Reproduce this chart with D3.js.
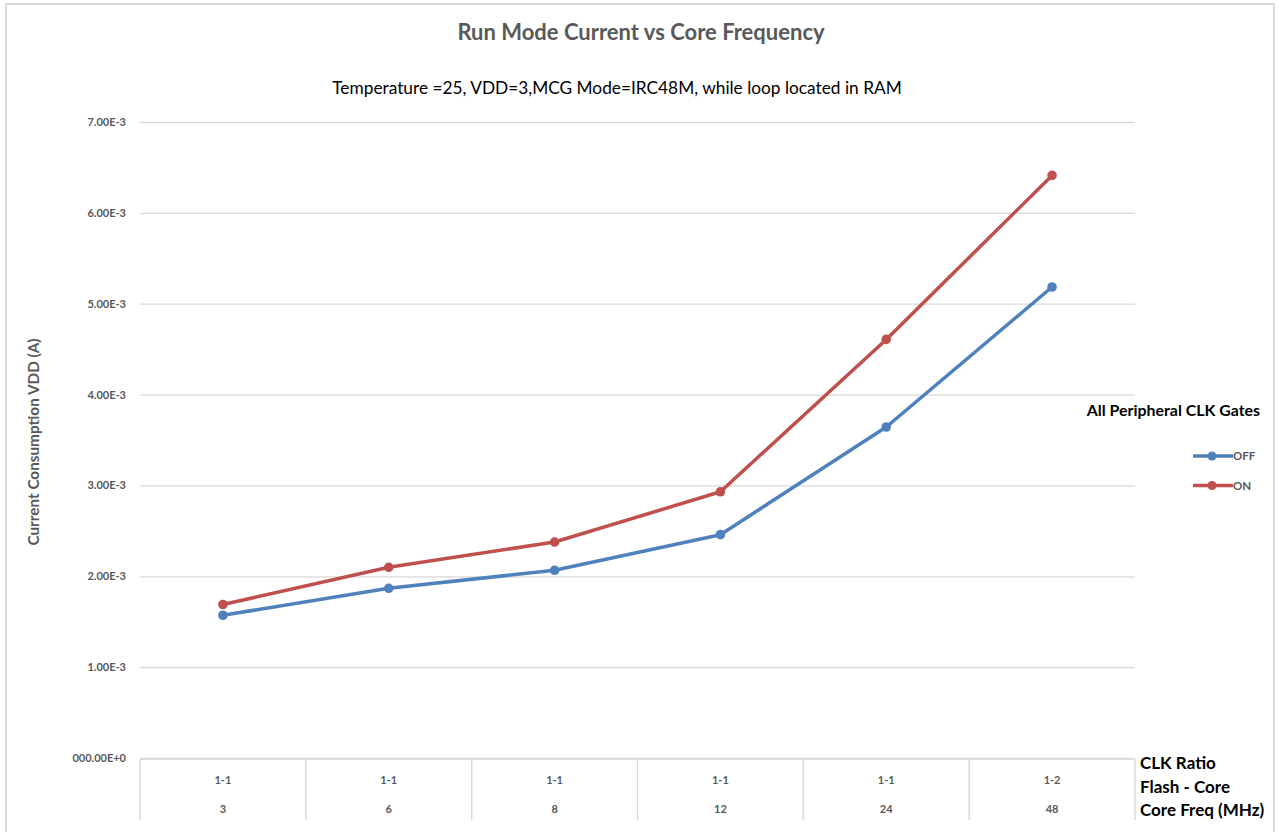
<!DOCTYPE html>
<html>
<head>
<meta charset="utf-8">
<script src="https://cdn.jsdelivr.net/npm/d3@7"></script>
<style>
  body { margin: 0; background: #ffffff; }
  text { font-family: Lato, "Open Sans", sans-serif; }
</style>
</head>
<body>
<div id="chart"></div>
<script>
// Chart data
var coreFreqs = ["3", "6", "8", "12", "24", "48"];
var clkRatios = ["1-1", "1-1", "1-1", "1-1", "1-1", "1-2"];
var offValues = [1.571e-3, 1.868e-3, 2.066e-3, 2.458e-3, 3.643e-3, 5.184e-3];
var onValues = [1.689e-3, 2.099e-3, 2.377e-3, 2.930e-3, 4.607e-3, 6.412e-3];
var yTicks = [0, 1e-3, 2e-3, 3e-3, 4e-3, 5e-3, 6e-3, 7e-3];
var yTickLabels = ["000.00E+0", "1.00E-3", "2.00E-3", "3.00E-3", "4.00E-3", "5.00E-3", "6.00E-3", "7.00E-3"];
var seriesNames = ["OFF", "ON"];
var seriesColors = ["#4f81bd", "#c0504d"];
var axisRowLabels = ["CLK Ratio", "Flash - Core", "Core Freq (MHz)"];

// Set the dimensions and margins
var w = 1279, h = 832;
var margin = {top: 122, right: 144, bottom: 74, left: 140};
var width = w - margin.left - margin.right;
var height = h - margin.top - margin.bottom;

var svg = d3.select("#chart")
  .append("svg")
    .attr("width", w)
    .attr("height", h);

// Outer chart border
svg.append("rect")
  .attr("x", 6)
  .attr("y", 4)
  .attr("width", 1268)
  .attr("height", 840)
  .attr("fill", "none")
  .attr("stroke", "#d9d9d9")
  .attr("stroke-width", 2);

// Title and subtitle
svg.append("text")
  .attr("x", 641)
  .attr("y", 40)
  .attr("text-anchor", "middle")
  .attr("font-size", "22px")
  .attr("font-weight", 700)
  .attr("fill", "#595959")
  .text("Run Mode Current vs Core Frequency");

svg.append("text")
  .attr("x", 617)
  .attr("y", 94)
  .attr("text-anchor", "middle")
  .attr("font-size", "17.3px")
  .attr("fill", "#000000")
  .text("Temperature =25, VDD=3,MCG Mode=IRC48M, while loop located in RAM");

var chart = svg.append("g")
  .attr("transform", "translate(" + margin.left + "," + margin.top + ")");

// Create scale function
var xScale = d3.scaleBand().domain(coreFreqs).range([0, width]);
var yScale = d3.scaleLinear().domain([0, 7e-3]).range([height, 0]);

// Create Y axis with gridlines
var yAxis = d3.axisLeft(yScale)
  .tickValues(yTicks)
  .tickSize(-width)
  .tickPadding(14)
  .tickFormat(function(d, i) { return yTickLabels[i]; });

var yAxisG = chart.append("g").call(yAxis);
yAxisG.select(".domain").remove();
yAxisG.selectAll("line")
  .attr("stroke", "#d9d9d9")
  .attr("stroke-width", 1.3);
yAxisG.selectAll("text")
  .attr("font-family", "Lato, sans-serif")
  .attr("font-size", "11px")
  .attr("font-weight", 700)
  .attr("fill", "#595959");

// Y label
svg.append("text")
  .attr("transform", "translate(39," + 442 + ")rotate(-90)")
  .attr("text-anchor", "middle")
  .attr("font-size", "15.3px")
  .attr("font-weight", 700)
  .attr("fill", "#595959")
  .text("Current Consumption VDD (A)");

// Category axis table
chart.append("line")
  .attr("x1", 0)
  .attr("x2", width)
  .attr("y1", height + 1)
  .attr("y2", height + 1)
  .attr("stroke", "#d9d9d9")
  .attr("stroke-width", 1.5);

var dividers = coreFreqs.map(function(d) { return xScale(d); }).concat([width]);
chart.selectAll(".divider").data(dividers).enter().append("line")
  .attr("class", "divider")
  .attr("x1", function(d) { return d; })
  .attr("x2", function(d) { return d; })
  .attr("y1", height + 1)
  .attr("y2", height + 62)
  .attr("stroke", "#d9d9d9")
  .attr("stroke-width", 1.5);

chart.selectAll(".ratio").data(clkRatios).enter().append("text")
  .attr("class", "ratio")
  .attr("x", function(d, i) { return xScale(coreFreqs[i]) + xScale.bandwidth() / 2; })
  .attr("y", height + 26)
  .attr("text-anchor", "middle")
  .attr("font-size", "11px")
  .attr("font-weight", 700)
  .attr("fill", "#595959")
  .text(function(d) { return d; });

chart.selectAll(".freq").data(coreFreqs).enter().append("text")
  .attr("class", "freq")
  .attr("x", function(d) { return xScale(d) + xScale.bandwidth() / 2; })
  .attr("y", height + 55)
  .attr("text-anchor", "middle")
  .attr("font-size", "11px")
  .attr("font-weight", 700)
  .attr("fill", "#595959")
  .text(function(d) { return d; });

svg.selectAll(".rowlabel").data(axisRowLabels).enter().append("text")
  .attr("class", "rowlabel")
  .attr("x", 1140)
  .attr("y", function(d, i) { return 769 + i * 23.5; })
  .attr("font-size", "17px")
  .attr("font-weight", 700)
  .attr("fill", "#000000")
  .text(function(d) { return d; });

// Create lines and points
var series = [offValues, onValues];
var line = d3.line()
  .x(function(d, i) { return xScale(coreFreqs[i]) + xScale.bandwidth() / 2; })
  .y(function(d) { return yScale(d); });

series.forEach(function(values, s) {
  chart.append("path")
    .datum(values)
    .attr("d", line)
    .attr("fill", "none")
    .attr("stroke", seriesColors[s])
    .attr("stroke-width", 3.5)
    .attr("stroke-linejoin", "round");

  chart.selectAll(".pt" + s).data(values).enter().append("circle")
    .attr("class", "pt" + s)
    .attr("cx", function(d, i) { return xScale(coreFreqs[i]) + xScale.bandwidth() / 2; })
    .attr("cy", function(d) { return yScale(d); })
    .attr("r", 4.8)
    .attr("fill", seriesColors[s]);
});

// Legend
svg.append("text")
  .attr("x", 1260)
  .attr("y", 416)
  .attr("text-anchor", "end")
  .attr("font-size", "15.9px")
  .attr("font-weight", 700)
  .attr("fill", "#000000")
  .text("All Peripheral CLK Gates");

var legend = svg.selectAll(".legend").data(seriesNames).enter().append("g")
  .attr("class", "legend")
  .attr("transform", function(d, i) { return "translate(1193," + (456 + i * 29.5) + ")"; });

legend.append("line")
  .attr("x1", 0)
  .attr("x2", 40)
  .attr("stroke", function(d, i) { return seriesColors[i]; })
  .attr("stroke-width", 3.5);

legend.append("circle")
  .attr("cx", 19)
  .attr("r", 4.5)
  .attr("fill", function(d, i) { return seriesColors[i]; });

legend.append("text")
  .attr("x", 40)
  .attr("y", 4)
  .attr("font-size", "11.5px")
  .attr("font-weight", 700)
  .attr("fill", "#595959")
  .text(function(d) { return d; });
</script>
</body>
</html>
